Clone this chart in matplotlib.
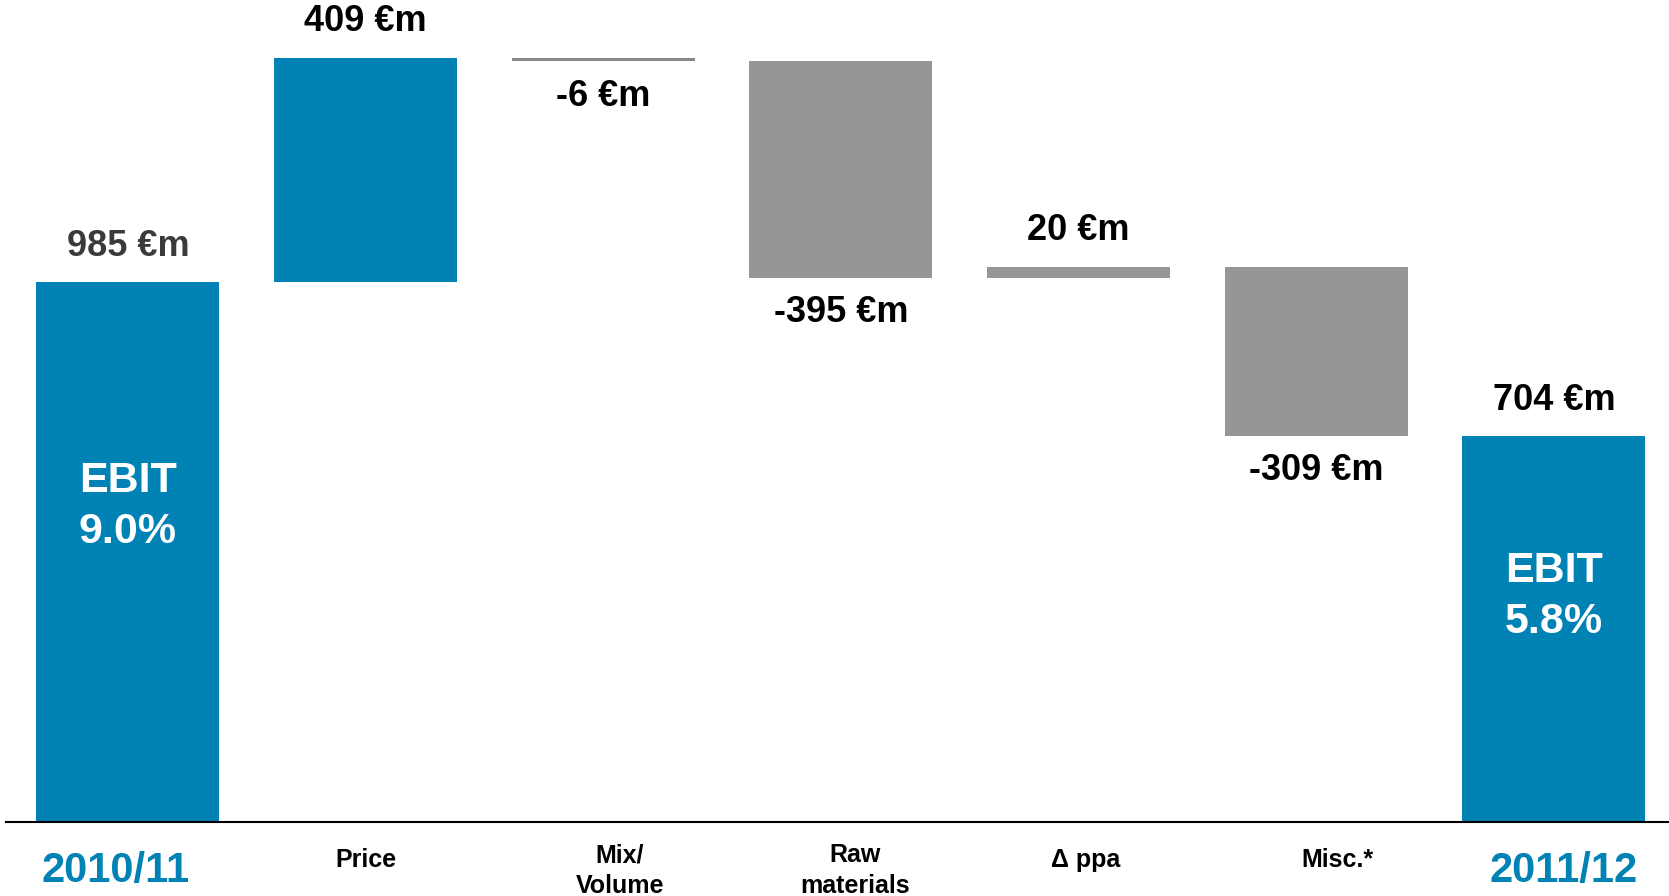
import numpy as np
import matplotlib
matplotlib.use("Agg")
import matplotlib.pyplot as plt

plt.rcParams['font.family'] = ['Liberation Sans', 'DejaVu Sans']

# EBIT bridge 2010/11 -> 2011/12 (in EUR m)
categories = ["2010/11", "Price", "Mix/\nVolume", "Raw\nmaterials", "\u0394 ppa", "Misc.*", "2011/12"]
values = [985, 409, -6, -395, 20, -309, 704]
is_total = [True, False, False, False, False, False, True]
ebit_margin = ["9.0%", None, None, None, None, None, "5.8%"]

BLUE = "#0082b4"
GREY = "#969696"
bar_colors = [BLUE, BLUE, "#888888", GREY, GREY, GREY, BLUE]

# waterfall bottoms / heights
bottoms, heights = [], []
run = 0
for v, tot in zip(values, is_total):
    if tot:
        bottoms.append(0)
        heights.append(v)
        run = v
    else:
        bottoms.append(min(run, run + v))
        heights.append(abs(v))
        run += v

fig = plt.figure(figsize=(16.69, 8.96), dpi=100)
ax = fig.add_axes([6 / 1669, 74 / 896, 1 - 6 / 1669, 1 - 74 / 896])

x = np.arange(len(values))
ax.bar(x, heights, bottom=bottoms, width=0.77, color=bar_colors, linewidth=0)

ax.set_xlim(-0.513, 6.484)
ax.set_ylim(0, 1500)
for s in ["top", "right", "left"]:
    ax.spines[s].set_visible(False)
ax.spines["bottom"].set_linewidth(1.5)
ax.spines["bottom"].set_color("black")
ax.set_yticks([])
ax.set_xticks([])

# value labels
for i, (v, b, h) in enumerate(zip(values, bottoms, heights)):
    txt = f"{v} \u20acm"
    col = "#3a3a3a" if i == 0 else "black"
    if v >= 0:
        ax.annotate(txt, (i, b + h), xytext=(0, 26), textcoords="offset points",
                    ha="center", va="center", fontsize=26, fontweight="bold", color=col)
    else:
        ax.annotate(txt, (i, b), xytext=(0, -25), textcoords="offset points",
                    ha="center", va="center", fontsize=26, fontweight="bold", color=col)

# EBIT margin inside total bars
for i, m in enumerate(ebit_margin):
    if m:
        ax.text(i, values[i] * 0.585, "EBIT\n" + m, ha="center", va="center",
                fontsize=31, fontweight="bold", color="white", linespacing=1.35)

# category labels under the axis
nudge = [-0.05, 0, 0.07, 0.06, 0.03, 0.09, 0.04]
for i, c in enumerate(categories):
    if is_total[i]:
        ax.annotate(c, (i + nudge[i], 0), xytext=(0, -35), textcoords="offset points",
                    ha="center", va="center", fontsize=30, fontweight="bold", color=BLUE)
    else:
        ax.annotate(c, (i + nudge[i], 0), xytext=(0, -27 if "\n" not in c else -35),
                    textcoords="offset points", ha="center", va="center",
                    fontsize=18, fontweight="bold", color="black", linespacing=1.35)

fig.savefig("out.png", dpi=100)
